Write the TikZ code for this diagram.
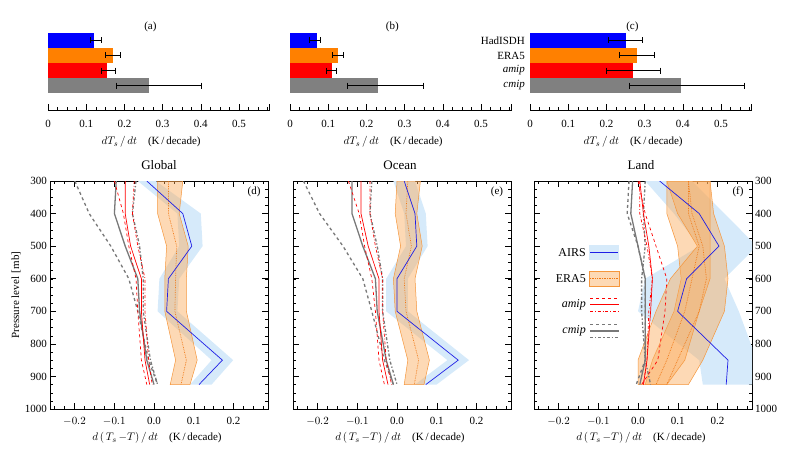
\documentclass[tikz,border=0pt]{standalone}
\usepackage{fontspec}
\setmainfont{Liberation Serif}
\begin{document}
\begin{tikzpicture}[x=1pt,y=-1pt,font=\fontsize{11}{13}\selectfont,
  airsband/.style={fill={rgb,255:red,214;green,234;blue,250},draw=none},
  airsline/.style={draw={rgb,255:red,30;green,30;blue,230},line width=0.7pt},
  eraband/.style={fill={rgb,255:red,250;green,170;blue,90},fill opacity=0.45,draw={rgb,255:red,245;green,150;blue,60},line width=0.5pt},
  eraline/.style={draw={rgb,255:red,240;green,120;blue,20},densely dotted,line width=0.7pt},
  redl/.style={draw=red,line width=0.7pt},
  grayl/.style={draw={rgb,255:red,120;green,120;blue,120},line width=1.3pt},
  lab/.style={inner sep=1pt}]
\useasboundingbox (0,0) rectangle (789,460);
\definecolor{bblue}{RGB}{0,0,255}
\definecolor{borange}{RGB}{255,128,0}
\definecolor{bred}{RGB}{255,0,0}
\definecolor{bgray}{RGB}{128,128,128}
% ---------- bar panels ----------
\newcommand\onebar[6]{% x0, colour, y, len, lo, hi
  \fill[#2] (#1,#3) rectangle (#1+#4*382,#3+15);
  \draw[line width=0.6pt] (#1+#5*382,#3+7.5) -- (#1+#6*382,#3+7.5)
     (#1+#5*382,#3+4.5) -- (#1+#5*382,#3+10.5) (#1+#6*382,#3+4.5) -- (#1+#6*382,#3+10.5);}
\newcommand\barpanel[2]{% x0, title
  \begin{scope}[shift={(#1,0)}]
  \node[lab] (t#2) at (0.268*382,27) {(#2)};
  \draw[line width=0.5pt] (0,110) -- (0.58*382,110);
  \foreach \i in {0,...,23} \draw[line width=0.4pt] (\i*9.55,110) -- ++(0,-3);
  \foreach \i in {0,...,5} \draw[line width=0.5pt] (\i*38.2,110) -- ++(0,-6);
  \draw (0.58*382,110) -- ++(0,-6);
  \foreach \l in {0,0.1,0.2,0.3,0.4,0.5} \node[lab] at (\l*382,124) {\l};
  \node[lab] (xl#2) at (0.27*382,142) {$dT_s\,/\,dt$\quad(K\,/\,decade)};
  \end{scope}}
\barpanel{48}{a}
\onebar{48}{bblue}{33}{0.12}{0.11}{0.14}
\onebar{48}{borange}{48}{0.17}{0.15}{0.19}
\onebar{48}{bred}{63}{0.155}{0.14}{0.175}
\onebar{48}{bgray}{78}{0.265}{0.18}{0.40}
\barpanel{290}{b}
\onebar{290}{bblue}{33}{0.07}{0.05}{0.08}
\onebar{290}{borange}{48}{0.125}{0.11}{0.14}
\onebar{290}{bred}{63}{0.11}{0.095}{0.12}
\onebar{290}{bgray}{78}{0.23}{0.15}{0.35}
\barpanel{530}{c}
\onebar{530}{bblue}{33}{0.25}{0.205}{0.295}
\onebar{530}{borange}{48}{0.28}{0.235}{0.325}
\onebar{530}{bred}{63}{0.27}{0.2}{0.34}
\onebar{530}{bgray}{78}{0.395}{0.26}{0.56}
\node[lab,anchor=east] (lh) at (526,40.5) {HadISDH};
\node[lab,anchor=east] (le) at (526,55.5) {ERA5};
\node[lab,anchor=east] (la) at (526,70.5) {\itshape amip};
\node[lab,anchor=east] (lc) at (526,85.5) {\itshape cmip};
% ---------- profile frames ----------
\newcommand\profframe[2]{%
  \draw[line width=0.6pt] (#1-104,181) rectangle (#1+114,409);
  \foreach \i in {-10,...,11}{\draw[line width=0.4pt] (#1+9.94*\i,409) -- ++(0,-3) (#1+9.94*\i,181) -- ++(0,3);}
  \foreach \i in {-2,...,2}{\draw[line width=0.5pt] (#1+39.75*\i,409) -- ++(0,-6) (#1+39.75*\i,181) -- ++(0,6);}
  \foreach \k in {1,...,27}{\draw[line width=0.4pt] (#1-104,181+8.143*\k) -- ++(3,0) (#1+114,181+8.143*\k) -- ++(-3,0);}
  \foreach \k in {0,...,7}{\draw[line width=0.5pt] (#1-104,181+32.57*\k) -- ++(6,0) (#1+114,181+32.57*\k) -- ++(-6,0);}
  \foreach \v/\t in {-2/$-0.2$,-1/$-0.1$,0/0.0,1/0.1,2/0.2}{\node[lab] at (#1+39.75*\v,421) {\t};}
  \node[lab] (xp#2) at (#1+3,438) {$d\,(\,T_s\,{-}T)\,/\,dt$\quad(K\,/\,decade)};
}
\profframe{154}{d}
\profframe{397}{e}
\profframe{638}{f}
\foreach \k/\p in {0/300,1/400,2/500,3/600,4/700,5/800,6/900,7/1000}{
  \node[lab,anchor=east] at (48,181+32.57*\k) {\p};
  \node[lab,anchor=west] at (754,181+32.57*\k) {\p};}
\node[lab,rotate=90] (ylab) at (16,295) {Pressure level\,\,[mb]};
\node[lab,font=\fontsize{13}{15}\selectfont] (tg) at (159,165) {Global};
\node[lab,font=\fontsize{13}{15}\selectfont] (to) at (400,165) {Ocean};
\node[lab,font=\fontsize{13}{15}\selectfont] (tl) at (641,165) {Land};
\node[lab] (pd) at (254,192) {(d)};
\node[lab] (pe) at (497,192) {(e)};
\node[lab] (pf) at (738,192) {(f)};
% ---------- profile data ----------
\newcommand\profdata[2]{\begin{scope}[shift={(#1,83.29)},xscale=360,yscale=0.32571]
  \clip (-0.289,300) rectangle (0.317,1000);
  #2
  \end{scope}}
\profdata{154}{
 \fill[airsband] (-0.045,300)--(0.065,400)--(0.07,500)--(0.015,600)--(0.01,700)--(0.16,850)--(0.1,925)--(0.16,925)--(0.22,850)--(0.065,700)--(0.07,600)--(0.135,500)--(0.13,400)--(0.005,300)--cycle;
 \draw[eraband] (0.01,300)--(0.01,400)--(0.035,500)--(0.03,600)--(0.03,700)--(0.06,850)--(0.045,925)--(0.10,925)--(0.12,850)--(0.09,700)--(0.09,600)--(0.095,500)--(0.07,400)--(0.08,300)--cycle;
 \draw[eraline] (0.04,300)--(0.04,400)--(0.063,500)--(0.06,600)--(0.058,700)--(0.09,850)--(0.075,925);
 \draw[airsline] (-0.02,300)--(0.08,400)--(0.105,500)--(0.04,600)--(0.035,700)--(0.19,850)--(0.125,925);
 \draw[grayl,dashed] (-0.22,300)--(-0.18,400)--(-0.12,500)--(-0.07,600)--(-0.045,700)--(-0.015,850)--(0.01,925);
 \draw[grayl] (-0.105,300)--(-0.11,400)--(-0.08,500)--(-0.045,600)--(-0.04,700)--(-0.02,850)--(0.0,925);
 \draw[grayl,dash dot] (-0.05,300)--(-0.06,400)--(-0.04,500)--(-0.03,600)--(-0.03,700)--(-0.01,850)--(0.01,925);
 \draw[redl,dashed] (-0.11,300)--(-0.085,400)--(-0.07,500)--(-0.05,600)--(-0.045,700)--(-0.035,850)--(-0.02,925);
 \draw[redl] (-0.08,300)--(-0.08,400)--(-0.065,500)--(-0.035,600)--(-0.035,700)--(-0.025,850)--(-0.012,925);
 \draw[redl,dash dot] (-0.055,300)--(-0.06,400)--(-0.045,500)--(-0.025,600)--(-0.025,700)--(-0.015,850)--(-0.005,925);
}
\profdata{397}{
 \fill[airsband] (-0.01,300)--(0.02,400)--(0.025,500)--(-0.03,600)--(-0.03,700)--(0.14,850)--(0.05,925)--(0.11,925)--(0.20,850)--(0.03,700)--(0.03,600)--(0.085,500)--(0.08,400)--(0.05,300)--cycle;
 \draw[eraband] (0.0,300)--(-0.005,400)--(0.01,500)--(-0.01,600)--(-0.005,700)--(0.03,850)--(0.02,925)--(0.075,925)--(0.09,850)--(0.055,700)--(0.05,600)--(0.07,500)--(0.055,400)--(0.065,300)--cycle;
 \draw[eraline] (0.03,300)--(0.025,400)--(0.04,500)--(0.02,600)--(0.025,700)--(0.06,850)--(0.048,925);
 \draw[airsline] (0.02,300)--(0.05,400)--(0.055,500)--(0.0,600)--(0.0,700)--(0.17,850)--(0.08,925);
 \draw[grayl,dashed] (-0.26,300)--(-0.215,400)--(-0.15,500)--(-0.095,600)--(-0.07,700)--(-0.035,850)--(-0.01,925);
 \draw[grayl] (-0.125,300)--(-0.125,400)--(-0.095,500)--(-0.06,600)--(-0.055,700)--(-0.03,850)--(-0.01,925);
 \draw[grayl,dash dot] (-0.07,300)--(-0.075,400)--(-0.055,500)--(-0.04,600)--(-0.04,700)--(-0.02,850)--(0.0,925);
 \draw[redl,dashed] (-0.135,300)--(-0.105,400)--(-0.09,500)--(-0.07,600)--(-0.06,700)--(-0.05,850)--(-0.035,925);
 \draw[redl] (-0.1,300)--(-0.1,400)--(-0.08,500)--(-0.05,600)--(-0.05,700)--(-0.04,850)--(-0.025,925);
 \draw[redl,dash dot] (-0.075,300)--(-0.075,400)--(-0.06,500)--(-0.04,600)--(-0.04,700)--(-0.03,850)--(-0.015,925);
}
\profdata{638}{
 \fill[airsband] (0.02,300)--(0.1,400)--(0.17,500)--(0.02,600)--(0.0,700)--(0.17,850)--(0.18,925)--(0.33,925)--(0.33,850)--(0.28,700)--(0.24,600)--(0.33,500)--(0.24,400)--(0.15,300)--cycle;
 \draw[eraband] (0.08,300)--(0.08,400)--(0.11,500)--(0.12,600)--(0.1,700)--(0.04,850)--(0.02,925)--(0.14,925)--(0.18,850)--(0.24,700)--(0.25,600)--(0.24,500)--(0.21,400)--(0.2,300)--cycle;
 \draw[eraband] (0.08,300)--(0.11,400)--(0.165,500)--(0.09,600)--(0.05,700)--(0.0,850)--(0.0,925)--(0.08,925)--(0.13,850)--(0.17,700)--(0.2,600)--(0.2,500)--(0.2,400)--(0.2,300)--cycle;
 \draw[eraline] (0.14,300)--(0.15,400)--(0.18,500)--(0.19,600)--(0.17,700)--(0.11,850)--(0.08,925);
 \draw[eraline] (0.14,300)--(0.14,400)--(0.17,500)--(0.15,600)--(0.13,700)--(0.08,850)--(0.05,925);
 \draw[airsline] (0.06,300)--(0.17,400)--(0.225,500)--(0.135,600)--(0.11,700)--(0.25,850)--(0.245,925);
 \draw[grayl,dashed] (-0.025,300)--(-0.03,400)--(0.0,500)--(0.02,600)--(0.02,700)--(0.02,850)--(-0.005,925);
 \draw[grayl] (-0.015,300)--(-0.02,400)--(0.0,500)--(0.02,600)--(0.02,700)--(0.02,850)--(0.005,925);
 \draw[grayl,dash dot] (0.02,300)--(0.015,400)--(0.02,500)--(0.01,600)--(0.01,700)--(0.02,850)--(0.035,925);
 \draw[redl,dashed] (0.0,300)--(0.02,400)--(0.05,500)--(0.08,600)--(0.075,700)--(0.055,850)--(0.01,925);
 \draw[redl] (0.005,300)--(0.015,400)--(0.03,500)--(0.04,600)--(0.035,700)--(0.025,850)--(0.015,925);
 \draw[redl,dash dot] (0.005,300)--(0.005,400)--(0.025,500)--(0.04,600)--(0.03,700)--(0.025,850)--(0.015,925);
}
% ---------- legend ----------
\fill[airsband] (589,245) rectangle (619,260);
\draw[airsline] (590,252.5) -- (618,252.5);
\draw[eraband] (589,271) rectangle (619,286);
\draw[eraline] (590,278.5) -- (618,278.5);
\draw[redl,dashed] (590,298) -- (619,298);
\draw[redl] (590,304.5) -- (619,304.5);
\draw[redl,dash dot] (590,311) -- (619,311);
\draw[grayl,dashed] (590,324.5) -- (619,324.5);
\draw[grayl] (590,331) -- (619,331);
\draw[grayl,dash dot] (590,337.5) -- (619,337.5);
\node[lab,anchor=east,font=\fontsize{12}{14}\selectfont] (lga) at (587,252.5) {AIRS};
\node[lab,anchor=east,font=\fontsize{12}{14}\selectfont] (lge) at (587,278.5) {ERA5};
\node[lab,anchor=east,font=\fontsize{12}{14}\selectfont\itshape] (lgm) at (587,304.5) {amip};
\node[lab,anchor=east,font=\fontsize{12}{14}\selectfont\itshape] (lgc) at (587,331) {cmip};
\end{tikzpicture}
\end{document}
